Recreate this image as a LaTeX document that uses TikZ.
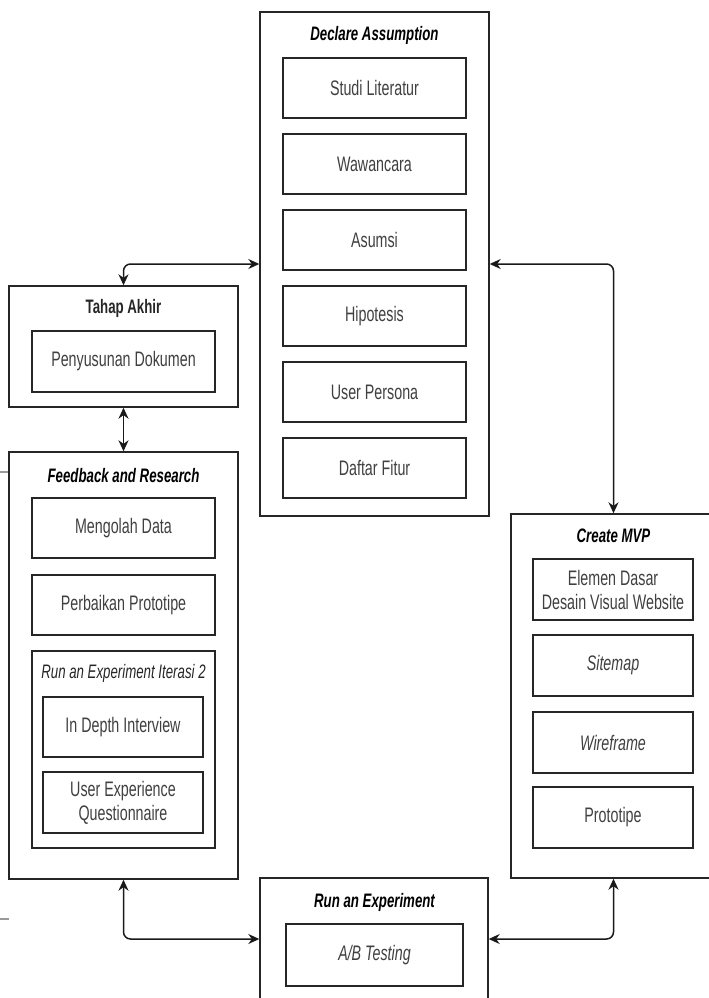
\documentclass[tikz,border=0pt]{standalone}
\usepackage{fontspec}
\setmainfont{Liberation Sans}[FakeStretch=0.68]
\usetikzlibrary{arrows.meta}
\begin{document}
\begin{tikzpicture}[x=1pt,y=-1pt,
  box/.style={draw=black!85, line width=1.4pt, fill=white, inner sep=0pt, align=center,
    text=black!75, font=\fontsize{21}{24}\selectfont},
  outer/.style={draw=black!85, line width=1.4pt, inner sep=0pt},
  ttl/.style={font=\fontsize{19.5}{22}\selectfont\bfseries\itshape, text=black, inner sep=0pt},
  ttlb/.style={font=\fontsize{19.5}{22}\selectfont\bfseries, text=black!85, inner sep=0pt},
  ttli/.style={font=\fontsize{19.5}{22}\selectfont\itshape, text=black!85, inner sep=0pt},
  conn/.style={line width=1.5pt, black!90, rounded corners=7pt, {Stealth[length=11pt,width=10pt]}-{Stealth[length=11pt,width=10pt]}}
]
\useasboundingbox (0,0) rectangle (709,998);
\begin{scope}
\clip (0,0) rectangle (709,998);

% gray lines at left edge
\draw[gray!80, line width=2pt] (0,472) -- (9,472);
\draw[gray!80, line width=2pt] (0,919) -- (9,919);

% Declare Assumption
\node[outer, minimum width=229pt, minimum height=504pt] (declare) at (374.5,264) {};
\node[ttl] (tdeclare) at (374.5,35) {Declare Assumption};
\node[box, minimum width=183pt, minimum height=60pt] (s1) at (374.5,88) {Studi Literatur};
\node[box, minimum width=183pt, minimum height=60pt] (s2) at (374.5,164) {Wawancara};
\node[box, minimum width=183pt, minimum height=60pt] (s3) at (374.5,240) {Asumsi};
\node[box, minimum width=183pt, minimum height=60pt] (s4) at (374.5,316) {Hipotesis};
\node[box, minimum width=183pt, minimum height=60pt] (s5) at (374.5,392) {User Persona};
\node[box, minimum width=183pt, minimum height=60pt] (s6) at (374.5,468) {Daftar Fitur};

% Tahap Akhir
\node[outer, minimum width=229pt, minimum height=121pt] (tahap) at (123.5,346.5) {};
\node[ttlb] (ttahap) at (123.5,308) {Tahap Akhir};
\node[box, minimum width=183pt, minimum height=61pt] (t1) at (123.5,361.5) {Penyusunan Dokumen};

% Feedback and Research
\node[outer, minimum width=229pt, minimum height=427pt] (feedback) at (123.5,665.5) {};
\node[ttl] (tfeedback) at (123.5,476) {Feedback and Research};
\node[box, minimum width=183pt, minimum height=60pt] (f1) at (123.5,528) {Mengolah Data};
\node[box, minimum width=183pt, minimum height=60pt] (f2) at (123.5,605) {Perbaikan Prototipe};
\node[outer, minimum width=183pt, minimum height=197pt] (iter) at (123.5,749.5) {};
\node[ttli] (titer) at (123.5,673) {Run an Experiment Iterasi 2};
\node[box, minimum width=160pt, minimum height=60pt] (i1) at (123,727) {In Depth Interview};
\node[box, minimum width=160pt, minimum height=61pt] (i2) at (123,802.5) {User Experience\\Questionnaire};

% Create MVP
\node[outer, minimum width=205pt, minimum height=364pt] (mvp) at (613.5,696) {};
\node[ttl] (tmvp) at (613.5,536) {Create MVP};
\node[box, minimum width=160pt, minimum height=61pt] (m1) at (613,589.5) {Elemen Dasar\\Desain Visual Website};
\node[box, minimum width=160pt, minimum height=61pt] (m2) at (613,665.5) {\itshape Sitemap};
\node[box, minimum width=160pt, minimum height=61pt] (m3) at (613,742.5) {\itshape Wireframe};
\node[box, minimum width=160pt, minimum height=61pt] (m4) at (613,817.5) {Prototipe};

% Run an Experiment
\node[outer, minimum width=228pt, minimum height=122pt] (runexp) at (374,939) {};
\node[ttl] (trunexp) at (374.5,902) {Run an Experiment};
\node[box, minimum width=177pt, minimum height=62pt] (r1) at (374.5,955) {\itshape A/B Testing};

% connectors
\draw[conn] (tahap.north) |- (declare.west);
\draw[conn] (declare.east) -| (mvp.north);
\draw[conn] (tahap.south) -- (feedback.north);
\draw[conn] (feedback.south) |- (runexp.west);
\draw[conn] (mvp.south) |- (runexp.east);
\end{scope}
\end{tikzpicture}
\end{document}
